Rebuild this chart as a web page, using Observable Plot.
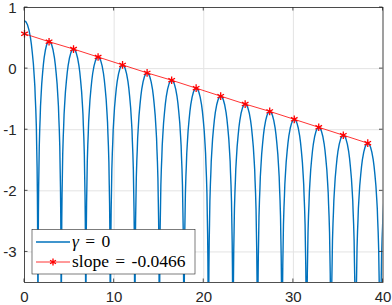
<!DOCTYPE html>
<html>
<head>
<meta charset="utf-8">
<script src="https://cdn.jsdelivr.net/npm/d3@7"></script>
<script src="https://cdn.jsdelivr.net/npm/@observablehq/plot@0.6"></script>
<style>
  html, body { margin: 0; padding: 0; background: #fff; }
</style>
</head>
<body>
<div id="chart"></div>
<script>
// ---- data ----
const xTicks = [0, 10, 20, 30, 40];
const yTicks = [1, 0, -1, -2, -3];

// blue curve (gamma = 0): lobe peaks and the zeros between them
const peakX = [0, 2.74, 5.47, 8.21, 10.94, 13.68, 16.42, 19.15, 21.89, 24.62, 27.36, 30.10, 32.83, 35.57, 38.30, 41.04];
const peakY = [0.78, 0.45, 0.32, 0.19, 0.06, -0.07, -0.19, -0.32, -0.45, -0.58, -0.70, -0.83, -0.96, -1.09, -1.22, -1.34];
const zeroX = [1.50, 4.10, 6.84, 9.58, 12.31, 15.05, 17.79, 20.52, 23.26, 26.00, 28.73, 31.47, 34.20, 36.94, 39.68];
// shape of one lobe: fraction of way to the zero -> drop below the peak
const lobeU    = [0, 0.11, 0.22, 0.33, 0.44, 0.51, 0.58, 0.66, 0.73, 0.77, 0.80, 0.84, 0.88, 0.91, 0.936, 0.958, 0.972, 0.987, 0.994, 1];
const lobeDrop = [0, 0.016, 0.063, 0.146, 0.27, 0.38, 0.52, 0.70, 0.93, 1.07, 1.25, 1.45, 1.72, 2.09, 2.39, 2.82, 3.26, 4.04, 4.8, 8];

// red fit line (slope = -0.0466) with star markers
const slopeX = [0, 2.74, 5.47, 8.21, 10.94, 13.68, 16.42, 19.15, 21.89, 24.62, 27.36, 30.10, 32.83, 35.57, 38.30];
const slopeY = [0.57, 0.44, 0.32, 0.19, 0.06, -0.07, -0.19, -0.32, -0.45, -0.58, -0.70, -0.83, -0.96, -1.09, -1.22];

const legendLabels = ["γ = 0", "slope = -0.0466"];

// ---- build tables ----
const blue = [];
for (let i = 0; i < peakX.length; i++) {
  const px = peakX[i], py = peakY[i];
  const zl = i > 0 ? zeroX[i - 1] : null;
  const zr = i < zeroX.length ? zeroX[i] : px + (px - zeroX[i - 1]);
  if (zl !== null) {
    for (let j = lobeU.length - 1; j >= 1; j--) blue.push({x: px - lobeU[j] * (px - zl), y: py - lobeDrop[j]});
  }
  blue.push({x: px, y: py});
  for (let j = 1; j < lobeU.length; j++) blue.push({x: px + lobeU[j] * (zr - px), y: py - lobeDrop[j]});
}
const red = slopeX.map((x, i) => ({x, y: slopeY[i]}));

const BLUE = "#0072BD", RED = "#FF0000", AXIS = "#262626";
const fmt = d => String(d);

const plot = Plot.plot({
  width: 392, height: 305,
  marginLeft: 24, marginRight: 9.5, marginTop: 7, marginBottom: 23,
  style: {fontFamily: "'Liberation Sans', Arial, Helvetica, sans-serif", fontSize: "15px", color: AXIS, background: "#fff"},
  x: {domain: [0, 40], label: null},
  y: {domain: [-3.5, 1], label: null},
  marks: [
    Plot.gridX(xTicks, {stroke: "#e3e3e3", strokeOpacity: 1, strokeWidth: 1}),
    Plot.gridY(yTicks, {stroke: "#e3e3e3", strokeOpacity: 1, strokeWidth: 1}),
    Plot.line(blue, {x: "x", y: "y", stroke: BLUE, strokeWidth: 1.4, clip: true}),
    Plot.line(red, {x: "x", y: "y", stroke: RED, strokeWidth: 0.8}),
    Plot.dot(red, {x: "x", y: "y", symbol: "asterisk", r: 3.6, stroke: RED, strokeWidth: 1.3}),
    Plot.frame({stroke: AXIS, strokeWidth: 0.8}),
    Plot.axisX(xTicks, {tickSize: 0, tickPadding: 9, tickFormat: fmt, fontSize: 15, label: null}),
    Plot.axisY(yTicks, {tickSize: 0, tickPadding: 8, tickFormat: fmt, fontSize: 15, label: null, dy: 0.5})
  ]
});

document.getElementById("chart").appendChild(plot);

// inward ticks on all four sides + legend
const sx = plot.scale("x"), sy = plot.scale("y");
const X0 = sx.apply(0), X1 = sx.apply(40), Y0 = sy.apply(-3.5), Y1 = sy.apply(1);
const svg = d3.select(plot);
const g = svg.append("g").attr("stroke", AXIS).attr("stroke-width", 0.8);
xTicks.forEach(v => {
  const px = sx.apply(v);
  g.append("line").attr("x1", px).attr("x2", px).attr("y1", Y0).attr("y2", Y0 - 3.5);
  g.append("line").attr("x1", px).attr("x2", px).attr("y1", Y1).attr("y2", Y1 + 3.5);
});
yTicks.forEach(v => {
  const py = sy.apply(v);
  g.append("line").attr("y1", py).attr("y2", py).attr("x1", X0).attr("x2", X0 + 3.5);
  g.append("line").attr("y1", py).attr("y2", py).attr("x1", X1).attr("x2", X1 - 3.5);
});

const lg = svg.append("g").attr("text-anchor", "start");
const lx = X0 + 8, ly = Y0 - 52.5, lw = 163, lh = 44.5;
lg.append("rect").attr("x", lx).attr("y", ly).attr("width", lw).attr("height", lh)
  .attr("fill", "#fff").attr("stroke", AXIS).attr("stroke-width", 0.6);
const rows = [{color: BLUE, star: false, y: ly + 12.5}, {color: RED, star: true, y: ly + 32.5}];
rows.forEach((r, i) => {
  lg.append("line").attr("x1", lx + 4).attr("x2", lx + 38).attr("y1", r.y).attr("y2", r.y)
    .attr("stroke", r.color).attr("stroke-width", r.star ? 0.8 : 1.4);
  if (r.star) {
    lg.append("path").attr("d", d3.symbol(d3.symbolAsterisk, 3.6 * 3.6 * 2.5)())
      .attr("transform", `translate(${lx + 21},${r.y})`).attr("stroke", RED).attr("stroke-width", 1.3).attr("fill", "none");
  }
  const t = lg.append("text").attr("x", lx + 40).attr("y", r.y + 5).attr("text-anchor", "start")
    .attr("font-family", "'Liberation Serif', 'Times New Roman', serif").attr("font-size", 17.5)
    .attr("word-spacing", "2px").attr("fill", "#000");
  if (i === 0) {
    t.append("tspan").attr("font-style", "italic").text("γ");
    t.append("tspan").text(" = 0");
  } else {
    t.text(legendLabels[1]);
  }
});
</script>
</body>
</html>
